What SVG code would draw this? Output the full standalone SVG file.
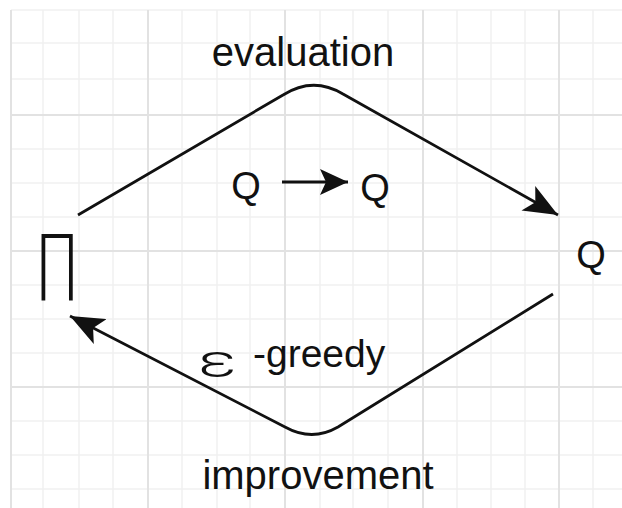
<svg xmlns="http://www.w3.org/2000/svg" width="622" height="508" viewBox="0 0 622 508">
  <style>
    .minor { stroke: #f0f0f0; stroke-width: 1.5; }
    .major { stroke: #e2e2e2; stroke-width: 2; }
    .lbl { font-family: "Liberation Sans", Arial, sans-serif; fill: #111; }
    .sym { font-family: Roboto, "DejaVu Sans", sans-serif; fill: #111; }
    .conn { fill: none; stroke: #111; stroke-width: 2.8; }
  </style>
  <defs>
    <marker id="arrow" viewBox="0 0 34 28" refX="34" refY="14" markerWidth="34" markerHeight="28" markerUnits="userSpaceOnUse" orient="auto">
      <path d="M0,0 L34,14 L0,28 L8,14 Z" fill="#111"/>
    </marker>
    <marker id="arrowSmall" viewBox="0 0 28 26" refX="28" refY="13" markerWidth="28" markerHeight="26" markerUnits="userSpaceOnUse" orient="auto">
      <path d="M0,0 L28,13 L0,26 L6,13 Z" fill="#111"/>
    </marker>
  </defs>
  <rect width="622" height="508" fill="#ffffff"/>
  <g id="grid">
    <g class="minor">
      <line x1="43" y1="10" x2="43" y2="508"/>
      <line x1="79" y1="10" x2="79" y2="508"/>
      <line x1="113" y1="10" x2="113" y2="508"/>
      <line x1="182" y1="10" x2="182" y2="508"/>
      <line x1="217" y1="10" x2="217" y2="508"/>
      <line x1="250" y1="10" x2="250" y2="508"/>
      <line x1="320" y1="10" x2="320" y2="508"/>
      <line x1="353" y1="10" x2="353" y2="508"/>
      <line x1="388" y1="10" x2="388" y2="508"/>
      <line x1="457" y1="10" x2="457" y2="508"/>
      <line x1="491" y1="10" x2="491" y2="508"/>
      <line x1="525" y1="10" x2="525" y2="508"/>
      <line x1="593" y1="10" x2="593" y2="508"/>
      <line x1="11" y1="10" x2="622" y2="10"/>
      <line x1="11" y1="43" x2="622" y2="43"/>
      <line x1="11" y1="79" x2="622" y2="79"/>
      <line x1="11" y1="149" x2="622" y2="149"/>
      <line x1="11" y1="183" x2="622" y2="183"/>
      <line x1="11" y1="217" x2="622" y2="217"/>
      <line x1="11" y1="285" x2="622" y2="285"/>
      <line x1="11" y1="319" x2="622" y2="319"/>
      <line x1="11" y1="353" x2="622" y2="353"/>
      <line x1="11" y1="421" x2="622" y2="421"/>
      <line x1="11" y1="455" x2="622" y2="455"/>
      <line x1="11" y1="489" x2="622" y2="489"/>
    </g>
    <g class="major">
      <line x1="11" y1="10" x2="11" y2="508"/>
      <line x1="148" y1="10" x2="148" y2="508"/>
      <line x1="285" y1="10" x2="285" y2="508"/>
      <line x1="423" y1="10" x2="423" y2="508"/>
      <line x1="559" y1="10" x2="559" y2="508"/>
      <line x1="11" y1="115" x2="622" y2="115"/>
      <line x1="11" y1="251" x2="622" y2="251"/>
      <line x1="11" y1="387" x2="622" y2="387"/>
    </g>
  </g>
  <g id="connectors">
    <path id="edge-evaluation" class="conn" d="M78,215 L283,95 Q313,76 343,94 L558,215" marker-end="url(#arrow)"/>
    <path id="edge-improvement" class="conn" d="M553,294 L338,427 Q312,442 285,427 L70,316" marker-end="url(#arrow)"/>
    <path id="edge-q-to-q" class="conn" stroke-width="4" d="M282,182 L348,182" marker-end="url(#arrowSmall)"/>
  </g>
  <g id="node-pi">
    <text class="sym" font-size="80" font-weight="300" text-anchor="middle" transform="translate(57,291) scale(0.8,1)">∏</text>
  </g>
  <g id="node-q">
    <text class="lbl" x="591" y="268" font-size="38" text-anchor="middle">Q</text>
  </g>
  <g id="label-evaluation">
    <text class="lbl" x="303" y="66" font-size="40" text-anchor="middle">evaluation</text>
  </g>
  <g id="label-q-arrow-q">
    <text class="lbl" x="246" y="199" font-size="38" text-anchor="middle">Q</text>
    <text class="lbl" x="375" y="201" font-size="38" text-anchor="middle">Q</text>
  </g>
  <g id="label-greedy">
    <text class="sym" font-size="46" font-weight="300" transform="translate(198,377) scale(1.55,1)">ε</text>
    <text class="lbl" x="253" y="367" font-size="39">-greedy</text>
  </g>
  <g id="label-improvement">
    <text class="lbl" x="318" y="489" font-size="40" text-anchor="middle">improvement</text>
  </g>
</svg>
